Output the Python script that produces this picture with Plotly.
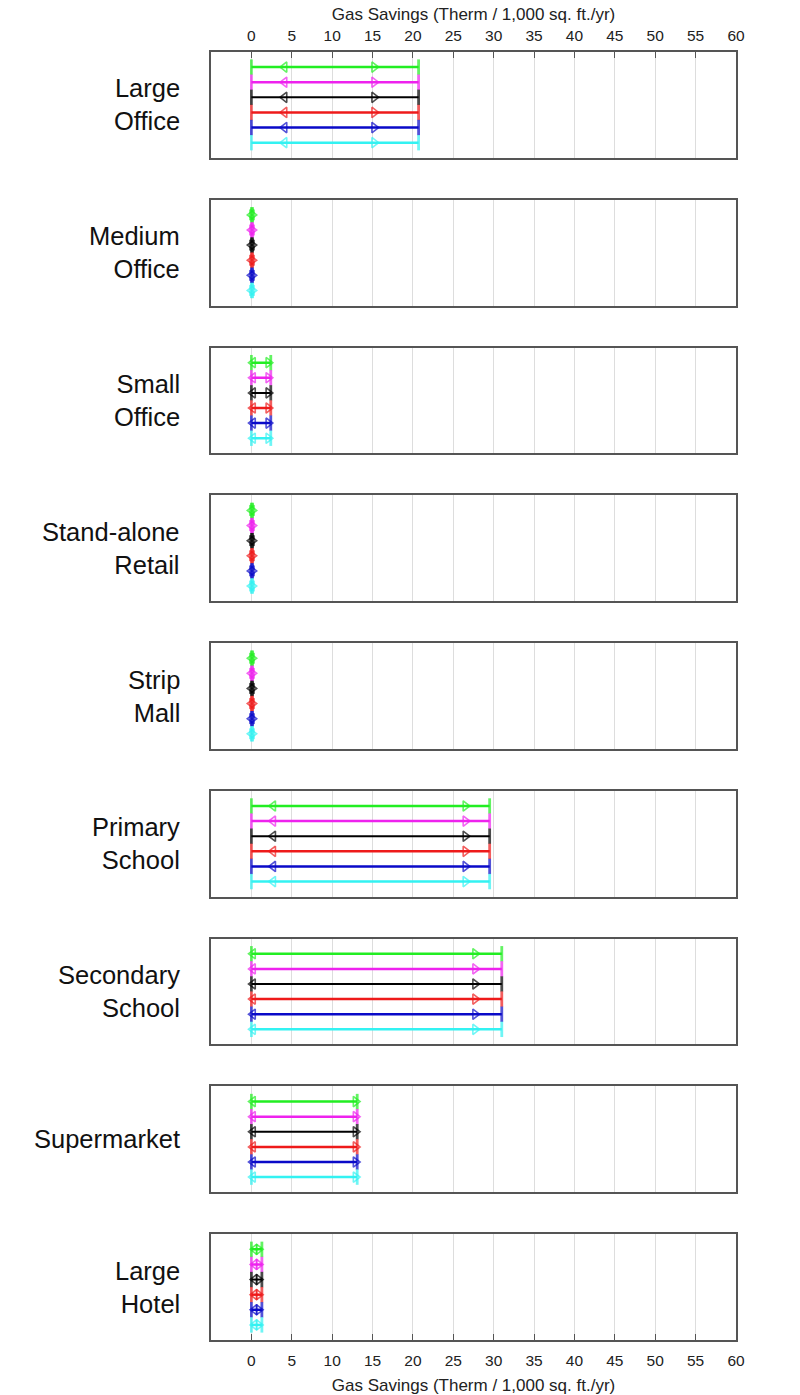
import plotly.graph_objects as go
from plotly.subplots import make_subplots

# ---- data ----
buildings = ["Large<br>Office", "Medium<br>Office", "Small<br>Office", "Stand-alone<br>Retail",
             "Strip<br>Mall", "Primary<br>School", "Secondary<br>School", "Supermarket", "Large<br>Hotel"]
series_names = ["Case 1", "Case 2", "Case 3", "Case 4", "Case 5", "Case 6"]
series_colors = ["#22ee22", "#ee22ee", "#000000", "#ee1a1a", "#0a0ac8", "#33f2f2"]

savings_min = [0.0, 0.0, 0.0, 0.0, 0.0, 0.0, 0.0, 0.0, 0.0]
savings_q1 = [4.1, 0.05, 0.2, 0.05, 0.05, 2.7, 0.2, 0.2, 0.4]
savings_q3 = [15.2, 0.1, 2.1, 0.1, 0.1, 26.5, 27.7, 12.9, 0.9]
savings_max = [20.7, 0.15, 2.4, 0.15, 0.15, 29.5, 31.0, 13.1, 1.3]

tick_vals = list(range(0, 61, 5))
axis_title = "Gas Savings (Therm / 1,000 sq. ft./yr)"

# ---- figure ----
W, H = 800, 1395
ml, mr, mt, mb = 211, 64, 52, 55
ph = H - mt - mb
n = len(buildings)
gap = 42
fig = make_subplots(rows=n, cols=1, vertical_spacing=gap / ph, shared_xaxes=False)

font_family = "Liberation Sans, Arial, sans-serif"

for i, b in enumerate(buildings):
    r = i + 1
    for k, (nm, col) in enumerate(zip(series_names, series_colors)):
        lw = 2.0 if col == "#000000" else 2.5
        fig.add_trace(go.Scatter(
            x=[savings_min[i], savings_q1[i], savings_q3[i], savings_max[i]],
            y=[k + 1] * 4,
            mode="lines+markers",
            name=nm,
            showlegend=False,
            line=dict(color=col, width=lw),
            marker=dict(
                symbol=["line-ns", "triangle-left-open", "triangle-right-open", "line-ns"],
                size=[11, 9, 9, 11],
                color=col,
                line=dict(color=col, width=[2.8, 1.6, 1.6, 2.8]),
            ),
        ), row=r, col=1)

    xa = dict(range=[-5, 60], tickvals=tick_vals, showgrid=True, gridcolor="#dddddd", gridwidth=1,
              showline=True, linecolor="#555555", linewidth=1.5, mirror=True, zeroline=False,
              automargin=False,
              tickfont=dict(family=font_family, size=15.5, color="#222222"))
    if r == 1:
        xa.update(side="top", ticks="inside", ticklen=6, tickcolor="#555555", showticklabels=True,
                  ticklabelstandoff=3,
                  title=dict(text=axis_title, font=dict(family=font_family, size=17, color="#222222"),
                             standoff=2))
    elif r == n:
        xa.update(side="bottom", ticks="inside", ticklen=6, tickcolor="#555555", showticklabels=True,
                  ticklabelstandoff=6,
                  title=dict(text=axis_title, font=dict(family=font_family, size=17, color="#222222"),
                             standoff=11))
    else:
        xa.update(ticks="", showticklabels=False)
    fig.update_xaxes(row=r, col=1, **xa)
    fig.update_yaxes(row=r, col=1, range=[7, 0], showticklabels=False, showgrid=False, zeroline=False,
                     showline=True, linecolor="#555555", linewidth=1.5, mirror=True, ticks="",
                     automargin=False)

    xref = "x domain" if r == 1 else f"x{r} domain"
    yref = "y domain" if r == 1 else f"y{r} domain"
    fig.add_annotation(text=b, x=-29 / (W - ml - mr), y=0.5, xref=xref, yref=yref,
                       xanchor="right", yanchor="middle", align="right", showarrow=False,
                       font=dict(family=font_family, size=25.5, color="#111111"))

fig.update_layout(width=W, height=H, margin=dict(l=ml, r=mr, t=mt, b=mb, autoexpand=False),
                  plot_bgcolor="white", paper_bgcolor="white", showlegend=False)

fig.write_html("out.html")
